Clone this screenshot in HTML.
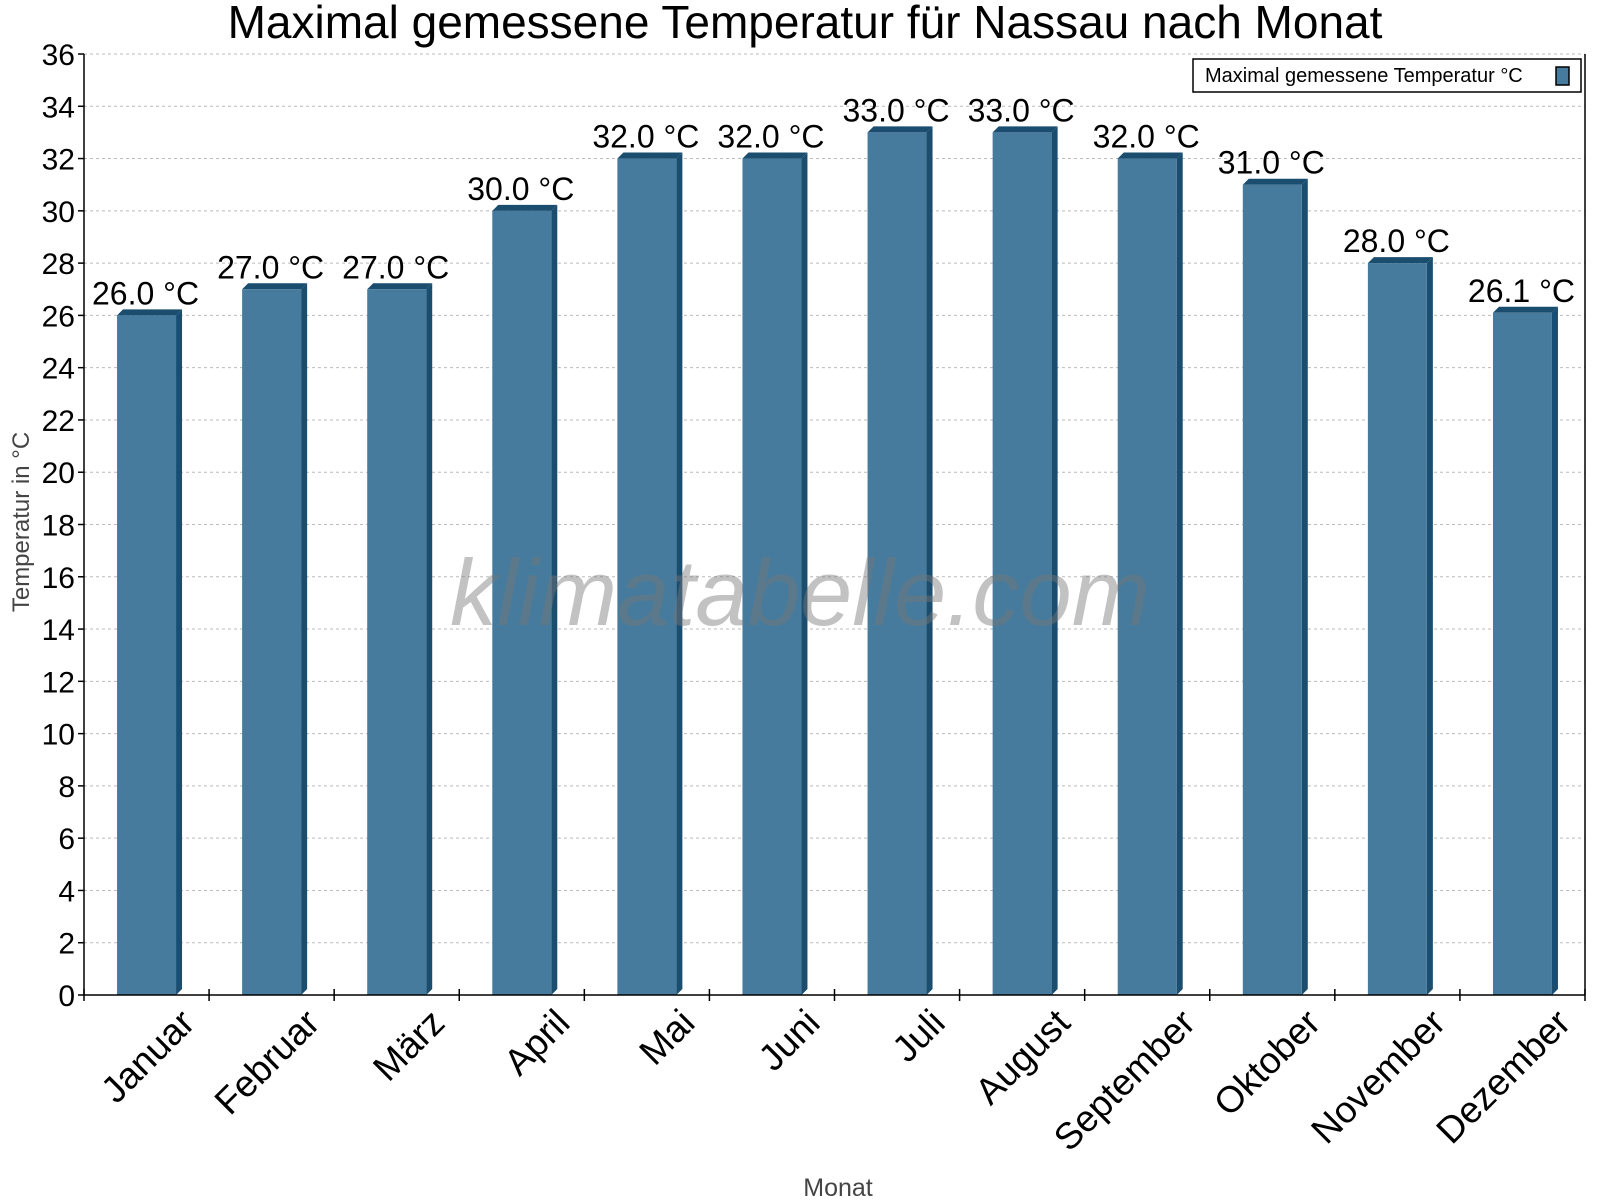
<!DOCTYPE html>
<html><head><meta charset="utf-8"><style>
html,body{margin:0;padding:0;background:#fff;}
svg{display:block;font-family:"Liberation Sans",sans-serif;}
</style></head><body>
<svg id="chart" width="1600" height="1200" viewBox="0 0 1600 1200" xmlns="http://www.w3.org/2000/svg">
<text x="805" y="38" font-size="46" text-anchor="middle" fill="#000">Maximal gemessene Temperatur für Nassau nach Monat</text>
<g id="grid"></g>
<g id="bars"></g>
<g id="axes"></g>
<text transform="translate(29,522) rotate(-90)" font-size="24" text-anchor="middle" fill="#444">Temperatur in °C</text>
<text x="838" y="1196" font-size="25" text-anchor="middle" fill="#444">Monat</text>
<g>
<rect x="1193" y="59" width="388" height="33" fill="#fff" stroke="#000" stroke-width="1.5"/>
<text x="1205" y="82" font-size="20" fill="#000">Maximal gemessene Temperatur °C</text>
<rect x="1556" y="67" width="13" height="18" fill="#467b9d" stroke="#000" stroke-width="1.5"/>
</g>
<text x="800" y="625" font-size="94" font-style="italic" text-anchor="middle" fill="#777" fill-opacity="0.45">klimatabelle.com</text>
</svg>
<script>
const categories=["Januar","Februar","März","April","Mai","Juni","Juli","August","September","Oktober","November","Dezember"];
const values=[26.0,27.0,27.0,30.0,32.0,32.0,33.0,33.0,32.0,31.0,28.0,26.1];
const valueLabels=["26.0 °C","27.0 °C","27.0 °C","30.0 °C","32.0 °C","32.0 °C","33.0 °C","33.0 °C","32.0 °C","31.0 °C","28.0 °C","26.1 °C"];
const yTicks=[0,2,4,6,8,10,12,14,16,18,20,22,24,26,28,30,32,34,36];
const NS="http://www.w3.org/2000/svg";
const L=84,R=1585,T=54,B=995,yMax=36;
const y=v=>B-(v/yMax)*(B-T);
const bw=(R-L)/categories.length;
const xc=i=>L+bw*(i+0.5);
function mk(tag,attrs,parent){const e=document.createElementNS(NS,tag);for(const k in attrs)e.setAttribute(k,attrs[k]);parent.appendChild(e);return e;}
const grid=document.getElementById('grid'),bars=document.getElementById('bars'),axes=document.getElementById('axes');
yTicks.forEach(t=>{
  if(t>0){const g=mk('line',{x1:L,x2:R,y1:y(t),y2:y(t),stroke:'#bbb','stroke-dasharray':'3,3','stroke-width':1},grid);
  
  }
  const tk=mk('line',{x1:L-6,x2:L,y1:y(t),y2:y(t),stroke:'#000','stroke-width':1.5},axes);
  
  
  const tl=mk('text',{x:L-9,y:y(t)+11,'font-size':30,'text-anchor':'end',fill:'#000'},axes);
  tl.textContent=t;
  
  
});
const fw=59,d=6;
values.forEach((v,i)=>{
  const x0=xc(i)-fw/2,yt=y(v);
  const side=mk('polygon',{points:`${x0+fw},${yt} ${x0+fw+d},${yt-d} ${x0+fw+d},${B-d} ${x0+fw},${B}`,fill:'#1a4d6e'},bars);
  
  
  const top=mk('polygon',{points:`${x0},${yt} ${x0+d},${yt-d} ${x0+fw+d},${yt-d} ${x0+fw},${yt}`,fill:'#1a4d6e'},bars);
  
  
  const r=mk('rect',{x:x0,y:yt,width:fw,height:B-yt,fill:'#467b9d'},bars);
  
  
  const lb=mk('text',{x:xc(i)-1,y:yt-11,'font-size':32,'text-anchor':'middle',fill:'#000'},bars);
  lb.textContent=valueLabels[i];
  
  
  const xl=mk('text',{transform:`translate(${xc(i)+50},${B+30}) rotate(-45)`,'font-size':37,'text-anchor':'end',fill:'#000'},axes);
  xl.textContent=categories[i];
  
  
});
for(let i=0;i<=categories.length;i++){
  const tk=mk('line',{x1:L+bw*i,x2:L+bw*i,y1:B-6,y2:B+6,stroke:'#000','stroke-width':1.5},axes);
  
  
}
const ya=mk('line',{x1:L,x2:L,y1:T,y2:B,stroke:'#000','stroke-width':1.5},axes);


const ya2=mk('line',{x1:R,x2:R,y1:T,y2:B,stroke:'#000','stroke-width':1.5},axes);


const xa=mk('line',{x1:L,x2:R,y1:B,y2:B,stroke:'#000','stroke-width':1.5},axes);


</script>
</body></html>
